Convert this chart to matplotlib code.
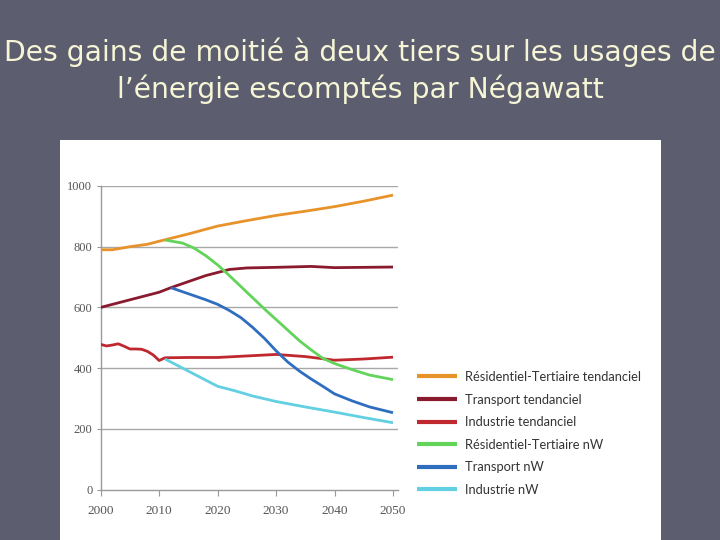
import matplotlib.pyplot as plt
from matplotlib.patches import Rectangle

# donnees (TWh)
res_tend_years = [2000, 2002, 2005, 2008, 2010, 2015, 2020, 2025, 2030, 2035, 2040, 2045, 2050]
res_tend_vals = [790, 790, 800, 808, 818, 842, 868, 886, 903, 917, 932, 950, 970]

tra_tend_years = [2000, 2005, 2010, 2012, 2015, 2018, 2020, 2022, 2025, 2030, 2036, 2040, 2045, 2050]
tra_tend_vals = [600, 625, 650, 665, 685, 705, 715, 725, 730, 732, 735, 731, 732, 733]

ind_tend_years = [2000, 2001, 2002, 2003, 2004, 2005, 2006, 2007, 2008, 2009, 2010, 2011,
                  2015, 2020, 2025, 2030, 2035, 2040, 2045, 2050]
ind_tend_vals = [478, 473, 476, 480, 472, 463, 463, 462, 455, 443, 425, 434,
                 435, 435, 440, 445, 438, 426, 430, 436]

res_nw_years = [2011, 2014, 2016, 2018, 2020, 2022, 2025, 2028, 2030, 2032, 2034, 2036,
                2038, 2040, 2043, 2046, 2050]
res_nw_vals = [822, 812, 795, 770, 740, 705, 650, 595, 560, 525, 490, 460,
               432, 415, 395, 377, 362]

tra_nw_years = [2012, 2015, 2018, 2020, 2022, 2024, 2026, 2028, 2030, 2032, 2034, 2036,
                2038, 2040, 2043, 2046, 2050]
tra_nw_vals = [665, 645, 625, 610, 590, 566, 534, 498, 457, 420, 390, 364,
               340, 315, 292, 272, 253]

ind_nw_years = [2011, 2013, 2015, 2018, 2020, 2023, 2026, 2030, 2035, 2040, 2045, 2050]
ind_nw_vals = [430, 410, 390, 360, 340, 325, 308, 290, 272, 255, 237, 220]

labels = ['Résidentiel-Tertiaire tendanciel', 'Transport tendanciel', 'Industrie tendanciel',
          'Résidentiel-Tertiaire nW', 'Transport nW', 'Industrie nW']
colors = ['#e8922a', '#8a1a2e', '#c0282f', '#62d45a', '#2f6ebf', '#62cfe2']

yticks = [0, 200, 400, 600, 800, 1000]
xticks = [2000, 2010, 2020, 2030, 2040, 2050]

title = "Des gains de moitié à deux tiers sur les usages de\nl\u2019énergie escomptés par Négawatt"

fig = plt.figure(figsize=(7.2, 5.4), dpi=100)
fig.patch.set_facecolor('#5c5e70')

# panneau blanc (derriere les axes)
fig.patches.append(Rectangle((60 / 720, 0), 601 / 720, 400 / 540, transform=fig.transFigure,
                             facecolor='white', edgecolor='none', zorder=-5))

fig.text(0.5, 1 - 71 / 540, title, ha='center', va='center', color='#f6f6d6',
         fontsize=20.3, family='DejaVu Sans', linespacing=1.32)

ax = fig.add_axes([100.7 / 720, 1 - 489.5 / 540, 297 / 720, 303.5 / 540])
ax.set_facecolor('none')
ax.set_zorder(2)

series = [(res_tend_years, res_tend_vals), (tra_tend_years, tra_tend_vals),
          (ind_tend_years, ind_tend_vals), (res_nw_years, res_nw_vals),
          (tra_nw_years, tra_nw_vals), (ind_nw_years, ind_nw_vals)]
handles = []
for (xs, ys), lab, c in zip(series, labels, colors):
    h, = ax.plot(xs, ys, color=c, lw=2.0, label=lab, solid_capstyle='butt', zorder=3)
    handles.append(h)

ax.set_xlim(2000, 2050.8)
ax.set_ylim(0, 1000)
ax.set_yticks(yticks)
ax.set_xticks(xticks)
for y in yticks[1:]:
    ax.axhline(y, color='#a8a8a8', lw=1.0, zorder=1)

for s in ['top', 'right']:
    ax.spines[s].set_visible(False)
ax.spines['left'].set_color('#999999')
ax.spines['bottom'].set_color('#999999')
ax.spines['left'].set_linewidth(1.0)
ax.spines['bottom'].set_linewidth(1.0)
ax.tick_params(axis='y', length=3, color='#999999', labelsize=9, labelcolor='#555555', pad=3)
ax.tick_params(axis='x', length=4, color='#999999', labelsize=9.5, labelcolor='#555555', pad=7)
for t in ax.get_xticklabels() + ax.get_yticklabels():
    t.set_family('Liberation Serif')

leg = fig.legend(handles=handles, labels=labels, loc='upper left',
                 bbox_to_anchor=(417 / 720, 1 - 371 / 540), frameon=False,
                 prop={'family': 'Lato', 'size': 9.3}, handlelength=3.1, handletextpad=0.62,
                 labelspacing=0.82, borderaxespad=0, borderpad=0)
for t in leg.get_texts():
    t.set_color('#333333')
for l in leg.get_lines():
    l.set_linewidth(3)

fig.savefig('out.png', dpi=100, facecolor=fig.get_facecolor())
